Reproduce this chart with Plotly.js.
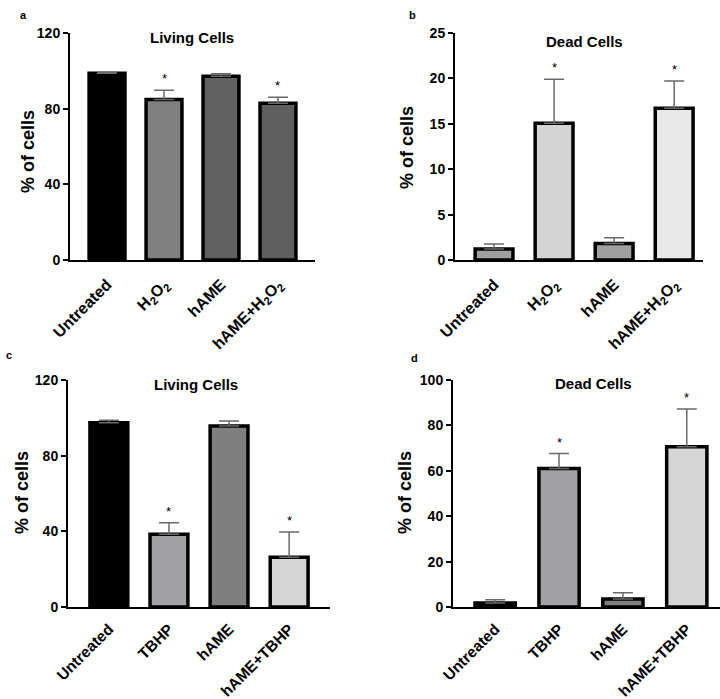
<!DOCTYPE html>
<html>
<head>
<meta charset="utf-8">
<script src="https://cdn.plot.ly/plotly-3.0.1.min.js"></script>
<style>html,body{margin:0;padding:0;background:#fff}#chart{width:720px;height:699px}</style>
</head>
<body>
<div id="chart"></div>
<script>
// ---- data ----
const catsH2O2 = ['Untreated', 'H<sub>2</sub>O<sub>2</sub>', 'hAME', 'hAME+H<sub>2</sub>O<sub>2</sub>'];
const catsTBHP = ['Untreated', 'TBHP', 'hAME', 'hAME+TBHP'];

const livingH2O2 = [98.7, 84.9, 97.2, 82.8];
const livingH2O2Err = [0.3, 4.8, 1.3, 3.2];
const deadH2O2 = [1.2, 15.05, 1.83, 16.7];
const deadH2O2Err = [0.56, 4.85, 0.63, 3.0];

const livingTBHP = [97.4, 38.4, 95.7, 26.3];
const livingTBHPErr = [1.3, 6.2, 2.6, 13.3];
const deadTBHP = [1.8, 61.0, 3.5, 70.6];
const deadTBHPErr = [1.4, 6.6, 2.8, 16.6];

const significant = [false, true, false, true];

const colorsA = ['#000000', '#808080', '#616161', '#5e5e5e'];
const colorsB = ['#a0a0a0', '#d4d4d4', '#a0a0a0', '#e9e9e9'];
const colorsC = ['#000000', '#a1a1a6', '#7f7f7f', '#d5d5d5'];
const colorsD = ['#000000', '#a1a1a6', '#7f7f7f', '#d5d5d5'];

// ---- layout helpers ----
const W = 720, H = 699;
const FONT = 'Liberation Sans, Arial, sans-serif';
const px = x => x / W;
const py = y => 1 - y / H;

function barTrace(cats, vals, errs, colors, xa, ya) {
  return {
    type: 'bar', x: cats, y: vals, xaxis: xa, yaxis: ya,
    width: 0.63,
    marker: {color: colors, line: {color: '#000', width: 3.5}},
    error_y: {type: 'data', array: errs, arrayminus: errs.map(() => 0), symmetric: false,
              color: '#6a6a6a', thickness: 1.5, width: 10},
    hoverinfo: 'skip', showlegend: false
  };
}

const data = [
  barTrace(catsH2O2, livingH2O2, livingH2O2Err, colorsA, 'x', 'y'),
  barTrace(catsH2O2, deadH2O2, deadH2O2Err, colorsB, 'x2', 'y2'),
  barTrace(catsTBHP, livingTBHP, livingTBHPErr, colorsC, 'x3', 'y3'),
  barTrace(catsTBHP, deadTBHP, deadTBHPErr, colorsD, 'x4', 'y4')
];

function xAxis(x0, x1, y, range, fs, standoff) {
  return {
    domain: [px(x0), px(x1)], anchor: y, range: range,
    showline: true, linecolor: '#000', linewidth: 2,
    ticks: '', tickangle: -45, showgrid: false, zeroline: false,
    ticklabelstandoff: standoff,
    tickfont: {family: FONT, size: fs, color: '#000', weight: 'bold'},
    fixedrange: true
  };
}
function yAxis(ytop, ybot, x, range, dtick) {
  return {
    domain: [py(ybot), py(ytop)], anchor: x, range: range, dtick: dtick, tick0: 0,
    showline: true, linecolor: '#000', linewidth: 2,
    ticks: 'outside', ticklen: 5, tickwidth: 2, tickcolor: '#000',
    showgrid: false, zeroline: false,
    tickfont: {family: FONT, size: 14, color: '#000', weight: 'bold'},
    fixedrange: true
  };
}

const annotations = [];
function txt(x, y, text, size, opts) {
  annotations.push(Object.assign({
    xref: 'paper', yref: 'paper', x: px(x), y: py(y), text: text, showarrow: false,
    font: {family: FONT, size: size, color: '#000', weight: 'bold'},
    xanchor: 'center', yanchor: 'middle'
  }, opts || {}));
}
// panel letters
txt(23, 15, 'a', 11);
txt(412, 15, 'b', 11);
txt(9, 355, 'c', 11);
txt(415, 358, 'd', 11);
// panel titles
txt(192, 38, 'Living Cells', 15);
txt(584, 41, 'Dead Cells', 15);
txt(196, 385, 'Living Cells', 15);
txt(593, 383, 'Dead Cells', 15);
// y titles
txt(28, 152, '% of cells', 18, {textangle: -90});
txt(407, 148, '% of cells', 18, {textangle: -90});
txt(22, 493, '% of cells', 18, {textangle: -90});
txt(405, 493, '% of cells', 18, {textangle: -90});

// significance stars
function stars(cats, vals, errs, xa, ya) {
  cats.forEach((c, i) => {
    if (!significant[i]) return;
    annotations.push({
      xref: xa, yref: ya, x: c, y: vals[i] + errs[i], text: '*', showarrow: false,
      font: {family: FONT, size: 13, color: '#000'},
      xanchor: 'center', yanchor: 'bottom', yshift: 2
    });
  });
}
stars(catsH2O2, livingH2O2, livingH2O2Err, 'x', 'y');
stars(catsH2O2, deadH2O2, deadH2O2Err, 'x2', 'y2');
stars(catsTBHP, livingTBHP, livingTBHPErr, 'x3', 'y3');
stars(catsTBHP, deadTBHP, deadTBHPErr, 'x4', 'y4');

const layout = {
  width: W, height: H,
  margin: {l: 0, r: 0, t: 0, b: 0},
  paper_bgcolor: '#fff', plot_bgcolor: 'rgba(0,0,0,0)',
  showlegend: false,
  xaxis: xAxis(70, 315, 'y', [-0.65, 3.65], 16, 7),
  yaxis: yAxis(33, 260, 'x', [0, 120], 40),
  xaxis2: xAxis(455, 703, 'y2', [-0.65, 3.48], 16, 7),
  yaxis2: yAxis(33, 260, 'x2', [0, 25], 5),
  xaxis3: xAxis(68, 330, 'y3', [-0.68, 3.68], 15.5, 5),
  yaxis3: yAxis(380, 607, 'x3', [0, 120], 40),
  xaxis4: xAxis(453, 720, 'y4', [-0.66, 3.52], 15.5, 5),
  yaxis4: yAxis(380, 607, 'x4', [0, 100], 20),
  annotations: annotations
};

Plotly.newPlot('chart', data, layout, {staticPlot: true, displayModeBar: false});
</script>
</body>
</html>
